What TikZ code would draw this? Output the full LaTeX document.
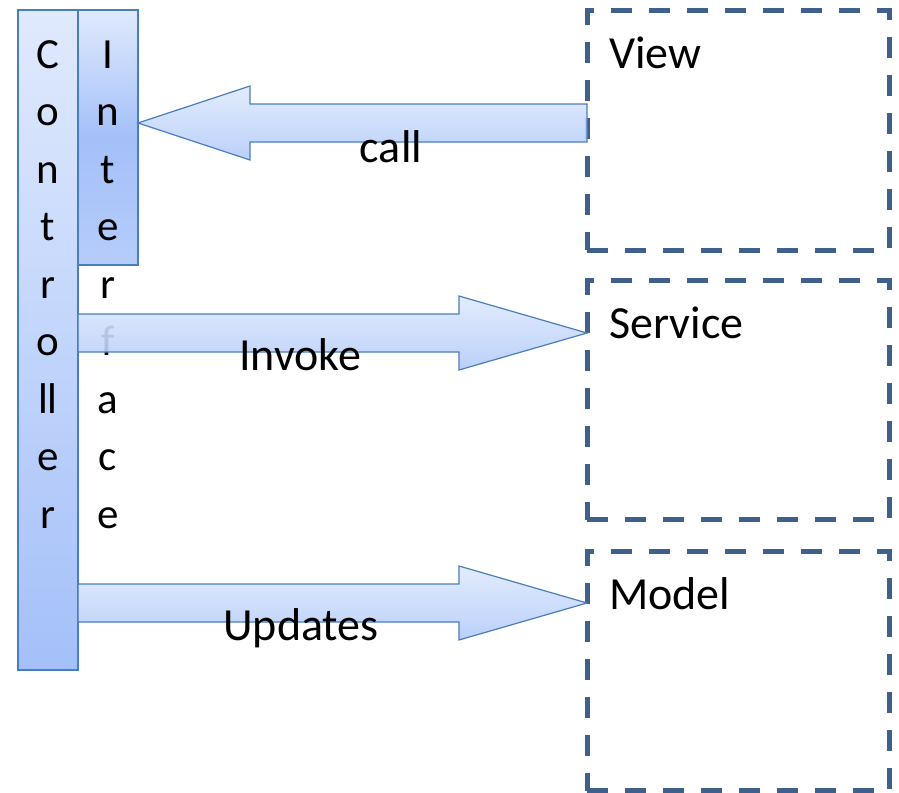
\documentclass[tikz,border=0pt]{standalone}
\usepackage{fontspec}
\setmainfont{Carlito}
\usepackage{tikz}
\usetikzlibrary{positioning}
\usetikzlibrary{calc}
\definecolor{mline}{RGB}{74,126,187}
\definecolor{mdash}{RGB}{64,96,140}
\definecolor{mlight}{RGB}{224,234,253}
\definecolor{mdark}{RGB}{164,192,249}
\tikzset{bar/.style = {draw=mline, line width=1.5pt, top color=mlight, bottom color=mdark, minimum width=60pt, inner sep=0, outer sep=0}}
\tikzset{layer/.style = {draw=mdash, line width=5pt, dash pattern=on 21pt off 17pt, minimum width=302pt, minimum height=239pt, inner sep=0, outer sep=0}}
\tikzset{letter/.style = {anchor=base, inner sep=0, font=\fontsize{43}{50}\selectfont}}
\tikzset{tag/.style = {anchor=base, inner sep=0, font=\fontsize{46}{55}\selectfont}}
\tikzset{fatarrow/.style = {draw=mline, line width=1.2pt, top color=mlight, bottom color=mdark!75!mlight, fill opacity=0.9}}
% block arrow from #1 to #2, head base at #3 from the tip
\newcommand{\blockarrow}[3]{%
  \path[fatarrow] ($(#1)+(0,-19)$) -- ($(#2)+(#3,-19)$) -- ($(#2)+(#3,-37)$) -- (#2)
    -- ($(#2)+(#3,37)$) -- ($(#2)+(#3,19)$) -- ($(#1)+(0,19)$) -- cycle;}

\begin{document}
\begin{tikzpicture}[x=1pt, y=-1pt]
    \useasboundingbox (0,0) rectangle (899,792);

    \node [bar, minimum height=660pt] (ctrl) at (48,340) {};
    \node [bar, minimum height=255pt, top color=mlight, bottom color=mdark!70!mlight, middle color=mdark] (iface) at (108,137.5) {};

    \node [layer] (view) at (738,130.5) {};
    \node [layer] (service) at (738,400) {};
    \node [layer] (model) at (738,671) {};
    \node [tag, anchor=base west] at ($(view.north west)+(22,57)$) {View};
    \node [tag, anchor=base west] at ($(service.north west)+(22,58)$) {Service};
    \node [tag, anchor=base west] at ($(model.north west)+(22,58)$) {Model};

    \foreach \ch [count=\i] in {C,o,n,t,r,o,ll,e,r} {
      \node [letter] (c\i) at (48, 10.5+57.5*\i) {\ch};
    }
    \foreach \ch [count=\i] in {I,n,t,e,r,f,a,c,e} {
      \node [letter] (i\i) at (108, 10.5+57.5*\i) {\ch};
    }

    \coordinate (callfrom) at (view.west |- 0,123);
    \coordinate (callto) at (iface.east |- callfrom);
    \coordinate (invfrom) at (ctrl.east |- 0,333);
    \coordinate (invto) at (service.west |- invfrom);
    \coordinate (updfrom) at (ctrl.east |- 0,603);
    \coordinate (updto) at (model.west |- updfrom);

    \blockarrow{callfrom}{callto}{112}
    \blockarrow{invfrom}{invto}{-128}
    \blockarrow{updfrom}{updto}{-128}

    \node [tag] at (391,162) {call};
    \node [tag] at (300,370) {Invoke};
    \node [tag] at (301,640) {Updates};
  \end{tikzpicture}
\end{document}
